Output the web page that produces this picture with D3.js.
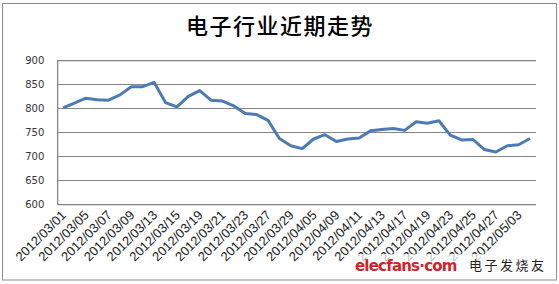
<!DOCTYPE html>
<html>
<head>
<meta charset="utf-8">
<script src="https://cdn.jsdelivr.net/npm/d3@7"></script>
<style>
  body { margin: 0; background: #fff; }
  svg { display: block; }
</style>
</head>
<body>
<svg id="chart" width="559" height="284"></svg>
<script>
/////// data ///////

var title = "电子行业近期走势";

var dates = [
  "2012/03/01", "2012/03/02", "2012/03/05", "2012/03/06", "2012/03/07", "2012/03/08",
  "2012/03/09", "2012/03/12", "2012/03/13", "2012/03/14", "2012/03/15", "2012/03/16",
  "2012/03/19", "2012/03/20", "2012/03/21", "2012/03/22", "2012/03/23", "2012/03/26",
  "2012/03/27", "2012/03/28", "2012/03/29", "2012/03/30", "2012/04/05", "2012/04/06",
  "2012/04/09", "2012/04/10", "2012/04/11", "2012/04/12", "2012/04/13", "2012/04/16",
  "2012/04/17", "2012/04/18", "2012/04/19", "2012/04/20", "2012/04/23", "2012/04/24",
  "2012/04/25", "2012/04/26", "2012/04/27", "2012/05/02", "2012/05/03", "2012/05/04"
];

var values = [
  801, 811, 821, 818, 817, 828,
  845, 845, 854, 812, 803, 825,
  837, 817, 815, 805, 789, 787,
  775, 737, 722, 716, 736, 745,
  731, 736, 738, 753, 756, 758,
  754, 772, 769, 774, 744, 734,
  735, 714, 709, 722, 724, 737
];

var yTicks = [600, 650, 700, 750, 800, 850, 900];

/////// layout ///////

var svg = d3.select("#chart");

var plot = {left: 57.3, right: 535.7, top: 60.3, bottom: 204.3};

var x = d3.scalePoint().domain(dates).range([plot.left, plot.right]).padding(0.5);
var y = d3.scaleLinear().domain([600, 900]).range([plot.bottom, plot.top]);

// outer frame
svg.append("rect")
  .attr("x", 2.5).attr("y", 3.5)
  .attr("width", 554).attr("height", 276.5)
  .attr("fill", "none")
  .attr("stroke", "#8c8c8c")
  .attr("stroke-width", 1);

// title
svg.append("text")
  .attr("x", 280).attr("y", 34)
  .attr("text-anchor", "middle")
  .attr("font-family", "'Noto Sans CJK SC', sans-serif")
  .attr("font-size", "22px")
  .attr("font-weight", 500)
  .attr("letter-spacing", "1.5px")
  .attr("fill", "#000")
  .text(title);

/////// gridlines + y axis ///////

var yAxis = d3.axisLeft(y)
  .tickValues(yTicks)
  .tickSize(-(plot.right - plot.left))
  .tickPadding(13)
  .tickFormat(d3.format("d"));

var gy = svg.append("g")
  .attr("transform", "translate(" + plot.left + ",0)")
  .call(yAxis);

gy.select(".domain").attr("stroke", "#868686");
gy.selectAll(".tick line").attr("stroke", "#868686").attr("shape-rendering", "crispEdges");
gy.selectAll(".tick text")
  .attr("font-family", "'DejaVu Sans', sans-serif")
  .attr("font-size", "10px")
  .attr("fill", "#333");

// left axis line
svg.append("line")
  .attr("x1", plot.left).attr("x2", plot.left)
  .attr("y1", plot.top).attr("y2", plot.bottom)
  .attr("stroke", "#868686")
  .attr("shape-rendering", "crispEdges");

/////// x labels ///////

svg.append("g")
  .selectAll("text")
  .data(dates.filter(function(d, i) { return i % 2 === 0; }))
  .enter().append("text")
  .attr("transform", function(d) { return "translate(" + (x(d) - 2.5) + "," + 209.5 + ") rotate(-45)"; })
  .attr("text-anchor", "end")
  .attr("dy", "0.7em")
  .attr("font-family", "'Liberation Sans', sans-serif")
  .attr("font-size", "13px")
  .attr("fill", "#222")
  .text(function(d) { return d; });

/////// line ///////

var line = d3.line()
  .x(function(d, i) { return x(dates[i]); })
  .y(function(d) { return y(d); });

svg.append("path")
  .datum(values)
  .attr("d", line)
  .attr("fill", "none")
  .attr("stroke", "#4c7bb4")
  .attr("stroke-width", 3)
  .attr("stroke-linejoin", "round");

/////// watermark ///////

svg.append("rect")
  .attr("x", 350).attr("y", 254)
  .attr("width", 205).attr("height", 25)
  .attr("fill", "#fff")
  .attr("opacity", 0.7);

svg.append("text")
  .attr("x", 355).attr("y", 271)
  .attr("font-family", "'DejaVu Sans', sans-serif")
  .attr("font-size", "15px")
  .attr("font-weight", "bold")
  .attr("letter-spacing", "-0.8px")
  .attr("fill", "#d2232a")
  .text("elecfans·com");

svg.append("text")
  .attr("x", 469).attr("y", 270)
  .attr("font-family", "'Noto Sans CJK SC', sans-serif")
  .attr("font-size", "13px")
  .attr("letter-spacing", "2.5px")
  .attr("fill", "#222")
  .text("电子发烧友");
</script>
</body>
</html>
